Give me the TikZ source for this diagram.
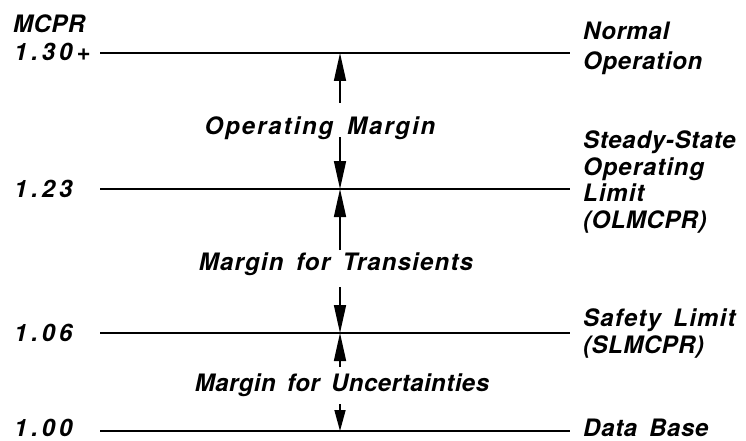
\documentclass[tikz,border=0pt]{standalone}
\usepackage{fontspec}
\setmainfont{TeX Gyre Heros}[WordSpace=1.6]
\usetikzlibrary{arrows.meta}
\newcommand{\ls}[1]{\addfontfeatures{LetterSpace=#1}}
\tikzset{
  lbl/.style={inner sep=0pt, anchor=base west, font=\fontsize{24}{27}\selectfont\bfseries\itshape},
  mlbl/.style={inner sep=0pt, anchor=base, font=\fontsize{24}{27}\selectfont\bfseries\itshape},
  level/.style={line width=1.6pt},
  marr/.style={line width=1.6pt, -{Triangle[length=28pt,width=12pt]}},
  sarr/.style={line width=1.6pt, -{Triangle[length=21pt,width=11pt]}},
}
\begin{document}
\begin{tikzpicture}[x=1pt,y=-1pt]
\useasboundingbox (0,0) rectangle (746,441);
% level lines
\coordinate (l1a) at (100,53);  \coordinate (l1b) at (570,53);
\coordinate (l2a) at (100,189); \coordinate (l2b) at (570,189);
\coordinate (l3a) at (100,333); \coordinate (l3b) at (570,333);
\coordinate (l4a) at (100,431); \coordinate (l4b) at (570,431);
\draw[level] (l1a) -- (l1b);
\draw[level] (l2a) -- (l2b);
\draw[level] (l3a) -- (l3b);
\draw[level] (l4a) -- (l4b);
% left labels
\node[lbl] (mcpr) at (13,33) {\ls{2}MCPR};
\node[lbl] (v130) at (14,61) {\ls{16}1.30+};
\node[lbl] (v123) at (14,197) {\ls{16}1.23};
\node[lbl] (v106) at (14,341) {\ls{16}1.06};
\node[lbl] (v100) at (14,436) {\ls{16}1.00};
% right labels
\node[lbl] (nA) at (583,40) {\ls{3}Normal};
\node[lbl] (nB) at (583,70) {\ls{3}Operation};
\node[lbl] (sA) at (583,148) {\ls{3}Steady-State};
\node[lbl] (sB) at (583,175) {\ls{4}Operating};
\node[lbl] (sC) at (583,201) {\ls{4}Limit};
\node[lbl] (sD) at (583,228) {\ls{2}(OLMCPR)};
\node[lbl] (fA) at (583,326) {\ls{5}Safety Limit};
\node[lbl] (fB) at (583,353) {\ls{2}(SLMCPR)};
\node[lbl] (db) at (583,436) {\ls{3}Data Base};
% margin labels
\node[mlbl] (om) at (320,135) {\ls{8}Operating Margin};
\node[mlbl] (mt) at (336,270) {\ls{5}Margin for Transients};
\node[mlbl] (mu) at (342,391) {\ls{2}Margin for Uncertainties};
% arrow points
\coordinate (t1) at (340,53);  \coordinate (s1u) at (340,103);
\coordinate (s1d) at (340,137); \coordinate (b1) at (340,189);
\coordinate (t2) at (340,189); \coordinate (s2u) at (340,250);
\coordinate (s2d) at (340,287); \coordinate (b2) at (340,333);
\coordinate (t3) at (340,333); \coordinate (s3u) at (340,367);
\coordinate (s3d) at (340,404); \coordinate (b3) at (340,431);
\draw[marr] (s1u) -- (t1);
\draw[marr] (s1d) -- (b1);
\draw[marr] (s2u) -- (t2);
\draw[marr] (s2d) -- (b2);
\draw[marr] (s3u) -- (t3);
\draw[sarr] (s3d) -- (b3);
\end{tikzpicture}
\end{document}
